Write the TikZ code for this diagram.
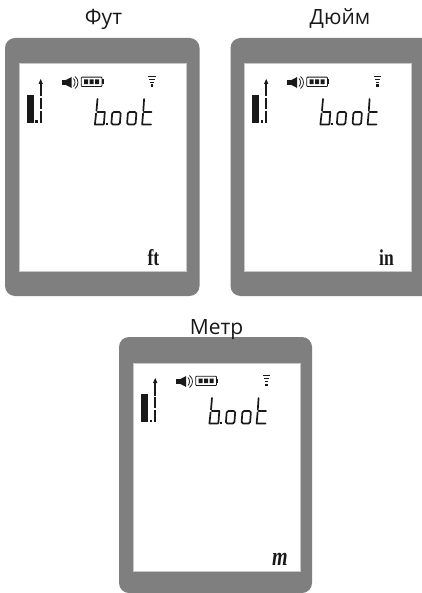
\documentclass[tikz,border=0pt]{standalone}
\usepackage{fontspec}
\setmainfont{Open Sans}
\newfontfamily\unitfont{Liberation Serif}
\definecolor{bezel}{RGB}{127,127,127}
\definecolor{edge}{RGB}{200,200,200}
\definecolor{ink}{RGB}{25,25,25}
\tikzset{
  x=1pt,y=-1pt,
  bezelbox/.style={fill=bezel,rounded corners=10pt},
  screenbox/.style={fill=white,draw=edge,line width=.7pt},
  seg/.style={draw=ink,line width=1.7pt,line cap=round,line join=round},
  thinseg/.style={draw=ink,line width=1.8pt},
  titletext/.style={font=\fontsize{21}{24}\selectfont,text=ink,inner sep=0pt,anchor=base},
  unittext/.style={font=\unitfont\bfseries\fontsize{17.5}{20}\selectfont,text=ink,inner sep=0pt,anchor=base east,yscale=1.3,transform shape}
}
\newcommand{\lcdpanel}[4]{\path[bezelbox] (#1,#2) rectangle (#3,#4);}
\newcommand{\lcdcontent}[4]{% name, x, y of screen top-left, y of contents
  \node[screenbox,minimum width=167pt,minimum height=208pt,inner sep=0pt,anchor=north west] (#1) at (#2,#3) {};
  \begin{scope}[shift={(#2,#4)}]
    % solid bar and dot
    \fill[ink] (8.2,32) rectangle (15.3,60.3);
    \fill[ink] (16.5,57.5) rectangle (19,60.3);
    % thin bar with arrow
    \fill[ink] (22.2,16) -- (24.4,21) -- (20,21) -- cycle;
    \draw[thinseg] (22.2,20) -- (22.2,33.5);
    \draw[thinseg] (22.2,35) -- (22.2,46);
    \draw[thinseg] (22.2,48) -- (22.2,60.3);
    % speaker
    \fill[ink] (43.2,17) rectangle (48,22);
    \fill[ink] (47.5,17) -- (53.2,14) -- (53.2,25) -- (47.5,22) -- cycle;
    \draw[ink,line width=.8pt] (55,15.5) .. controls (57,17.5) and (57,21.5) .. (55,23.5);
    \draw[ink,line width=.8pt] (56.5,13.5) .. controls (60.5,16.5) and (60.5,22.5) .. (56.5,25.5);
    % battery
    \draw[ink,line width=.9pt,rounded corners=.8pt] (62.7,14.2) rectangle (83.5,23.5);
    \fill[ink] (83.8,16.5) rectangle (85.2,21.2);
    \fill[ink] (65.7,16.5) rectangle (69.7,21.2) (71.2,16.5) rectangle (75.2,21.2) (76.7,16.5) rectangle (80.7,21.2);
    % transmit icon
    \draw[ink,line width=.9pt] (129.8,13.2) -- (137.2,13.2) (130.8,16.2) -- (136.2,16.2) (131.8,19) -- (135.2,19);
    \fill[ink] (132.3,21.5) rectangle (134.7,24);
    % b.oot
    \draw[seg] (79,36) -- (78,47.5) (77.6,50.5) -- (76.4,61.5) -- (85,61.5) (79,49) -- (86.3,49) -- (85.4,61);
    \fill[ink] (87,60) rectangle (89,62.3);
    \draw[seg,rounded corners=1.5pt] (93.8,49) -- (102.3,49) -- (101.3,61.5) -- (92.8,61.5) -- cycle;
    \draw[seg,rounded corners=1.5pt] (109.5,49) -- (118,49) -- (117,61.5) -- (108.5,61.5) -- cycle;
    \draw[seg] (125.6,36) -- (124.8,47.5) (124.6,50.5) -- (123.6,61.5) -- (132.5,61.5) (125.5,49) -- (133,49);
  \end{scope}
}
\begin{document}
\begin{tikzpicture}
\useasboundingbox (0,0) rectangle (422,593);
\fill[white] (0,0) rectangle (422,593);
\lcdpanel{5}{38}{199.5}{296}
\lcdcontent{screenA}{18.5}{63}{63}
\lcdpanel{230.5}{38}{432}{296}
\lcdcontent{screenB}{244}{63}{63}
\lcdpanel{119}{337}{312}{593}
\lcdcontent{screenC}{133}{363}{362}
\node[titletext] (t1) at (103.5,25) {Фут};
\node[titletext] (t2) at (340,25) {Дюйм};
\node[titletext] (t3) at (216.5,334) {Метр};
\node[unittext] (u1) at (159.5,265) {ft};
\node[unittext] (u2) at (394,265) {in};
\node[unittext,font=\unitfont\bfseries\itshape\fontsize{20}{20}\selectfont] (u3) at (288,565) {m};
\end{tikzpicture}
\end{document}
